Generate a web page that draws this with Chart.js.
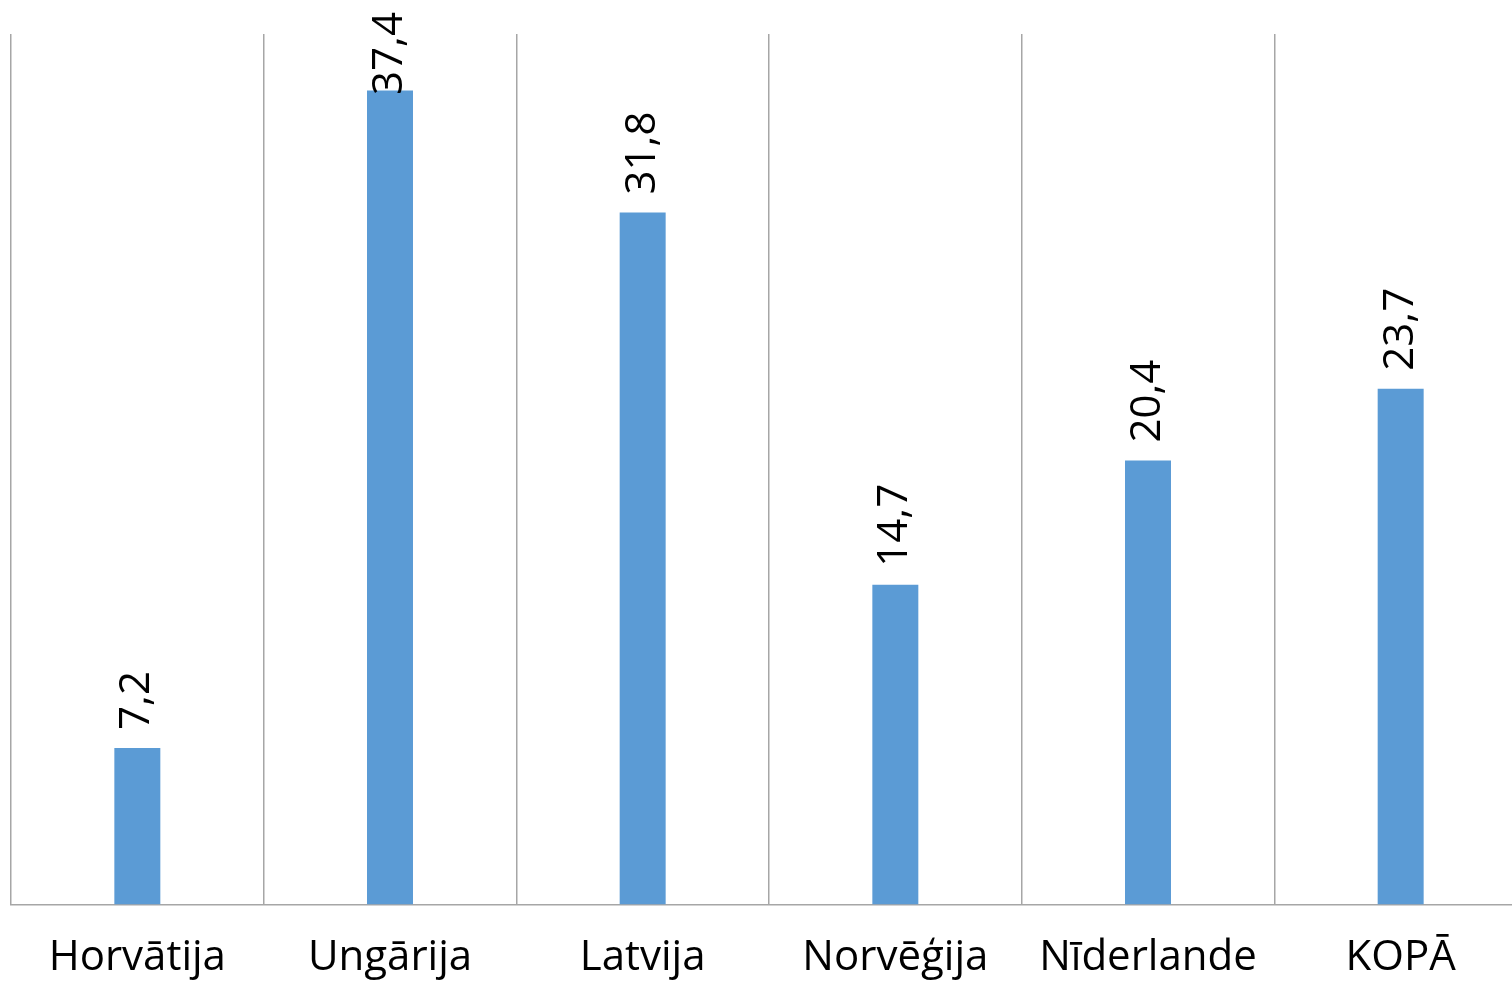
<!DOCTYPE html>
<html>
<head>
<meta charset="utf-8">
<script src="https://cdn.jsdelivr.net/npm/chart.js@4/dist/chart.umd.min.js"></script>
<style>
  html, body { margin: 0; padding: 0; background: #fff; overflow: hidden; }
  #wrap { width: 1530px; height: 1016px; }
</style>
</head>
<body>
<div id="wrap"><canvas id="chart"></canvas></div>
<script>
const countries = ['Horvātija', 'Ungārija', 'Latvija', 'Norvēģija', 'Nīderlande', 'KOPĀ'];
const shares = [7.2, 37.4, 31.8, 14.7, 20.4, 23.7];
const yMin = 0;
const yMax = 40;

const barColor = '#5b9bd5';
const gridColor = '#a6a6a6';
const fontFamily = '"Open Sans", "Noto Sans", sans-serif';

// rotated value labels just above each bar, decimal comma;
// pushed down when they would run off the top of the canvas
const valueLabels = {
  id: 'valueLabels',
  afterDatasetsDraw(chart) {
    const ctx = chart.ctx;
    const meta = chart.getDatasetMeta(0);
    ctx.save();
    ctx.fillStyle = '#000';
    ctx.font = '42px ' + fontFamily;
    ctx.textAlign = 'left';
    ctx.textBaseline = 'middle';
    meta.data.forEach((bar, i) => {
      const text = shares[i].toFixed(1).replace('.', ',');
      const w = ctx.measureText(text).width;
      const start = Math.max(bar.y - 18, 12 + w);
      ctx.save();
      ctx.translate(bar.x, start);
      ctx.rotate(-Math.PI / 2);
      ctx.fillText(text, 0, 0);
      ctx.restore();
    });
    ctx.restore();
  }
};

new Chart(document.getElementById('chart'), {
  type: 'bar',
  data: {
    labels: countries,
    datasets: [{
      data: shares,
      backgroundColor: barColor,
      borderWidth: 0,
      barPercentage: 0.182,
      categoryPercentage: 1,
    }],
  },
  options: {
    responsive: true,
    maintainAspectRatio: false,
    animation: false,
    layout: { padding: { left: 11, right: 3, top: 34, bottom: 5 } },
    plugins: {
      legend: { display: false },
      tooltip: { enabled: false },
    },
    scales: {
      x: {
        grid: {
          offset: true,
          color: gridColor,
          lineWidth: 1.5,
          drawTicks: false,
        },
        border: { display: true, color: gridColor, width: 1.5 },
        ticks: {
          color: '#000',
          padding: 28,
          maxRotation: 0,
          autoSkip: false,
          font: { family: fontFamily, size: 42 },
        },
      },
      y: {
        display: false,
        min: yMin,
        max: yMax,
      },
    },
  },
  plugins: [valueLabels],
});
</script>
</body>
</html>
